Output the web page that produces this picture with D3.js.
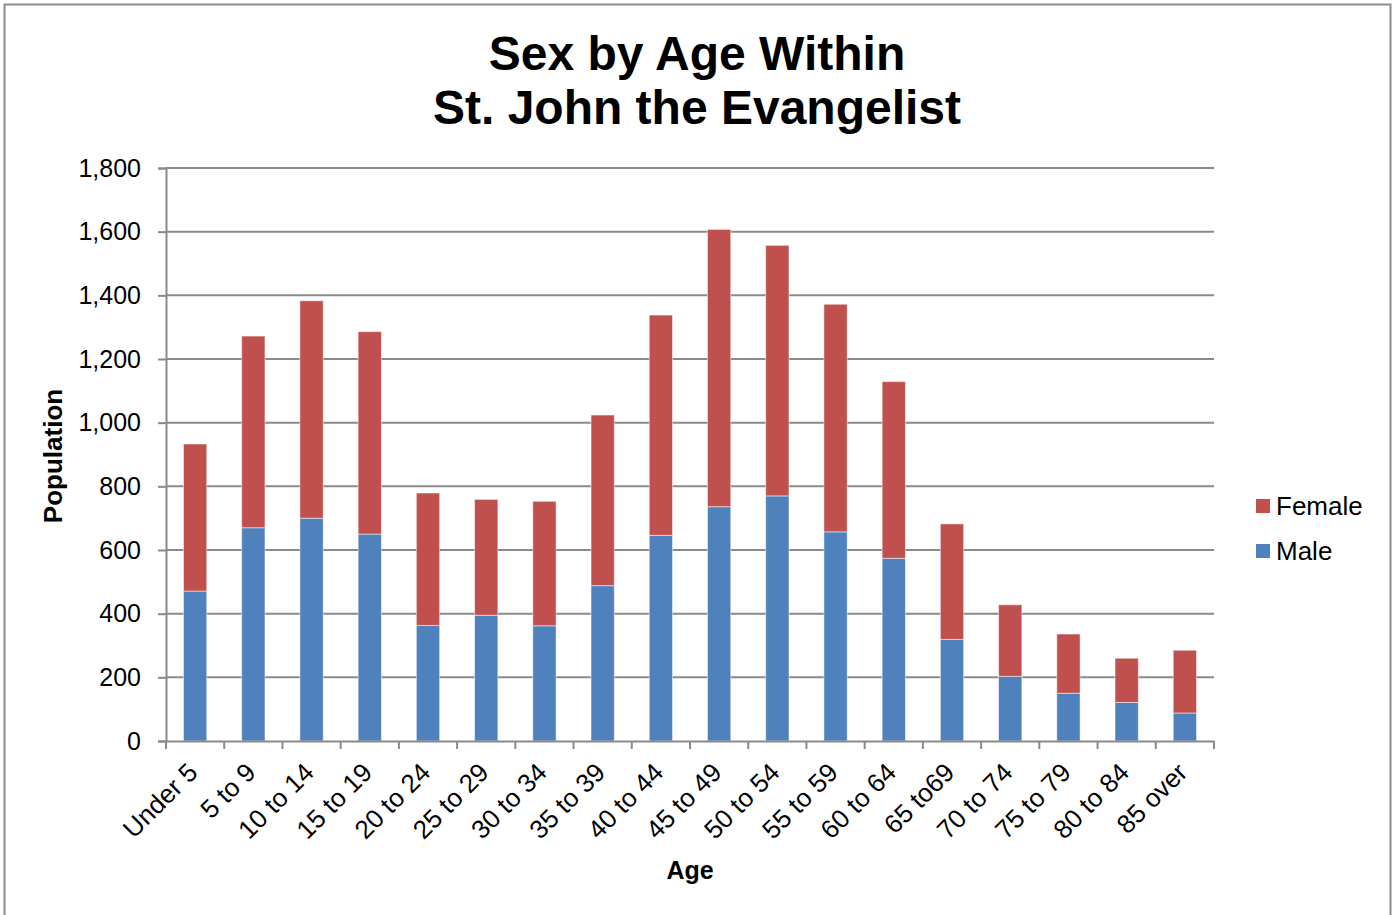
<!DOCTYPE html>
<html><head><meta charset="utf-8">
<script src="https://cdn.jsdelivr.net/npm/d3@7"></script>
<style>body{margin:0;background:#fff}svg{display:block}text{font-family:"Liberation Sans",Arial,sans-serif}</style>
</head><body>
<script>
const categories = ["Under 5","5 to 9","10 to 14","15 to 19","20 to 24","25 to 29","30 to 34","35 to 39","40 to 44","45 to 49","50 to 54","55 to 59","60 to 64","65 to69","70 to 74","75 to 79","80 to 84","85 over"];
const male   = [471, 670, 700, 650, 363, 395, 362, 488, 646, 736, 770, 657, 574, 319, 203, 150, 121, 88];
const totals = [933, 1272, 1383, 1286, 779, 759, 753, 1024, 1338, 1607, 1557, 1372, 1129, 682, 428, 336, 260, 285];
const female = totals.map((t, i) => t - male[i]);
const yTicks = [0, 200, 400, 600, 800, 1000, 1200, 1400, 1600, 1800];
const seriesNames = ["Male", "Female"];
const colors = {Male: "#4F81BD", Female: "#C0504D"};

const W = 1395, H = 915;
const FONT = '"Liberation Sans",Arial,sans-serif';
const svg = d3.select("body").append("svg").attr("width", W).attr("height", H);
svg.append("rect").attr("x", 4.5).attr("y", 4.5).attr("width", W - 9).attr("height", H).attr("fill", "#fff").attr("stroke", "#8c8c8c").attr("stroke-width", 2);

const pl = 166, pr = 1214, pt = 168, pb = 741;
const x = d3.scaleBand().domain(categories).range([pl, pr]).paddingInner(0.6).paddingOuter(0.3);
const y = d3.scaleLinear().domain([0, 1800]).range([pb, pt]);

// gridlines
svg.append("g").selectAll("line").data(yTicks.filter(d => d > 0)).join("line")
  .attr("x1", pl).attr("x2", pr).attr("y1", d => y(d)).attr("y2", d => y(d))
  .attr("stroke", "#8a8a8a").attr("stroke-width", 2);

// stacked data
const rows = categories.map((c, i) => ({cat: c, Male: male[i], Female: female[i]}));
const stack = d3.stack().keys(seriesNames)(rows);
svg.append("g").selectAll("g").data(stack).join("g").attr("fill", d => colors[d.key])
  .selectAll("rect").data(d => d).join("rect")
  .attr("x", d => x(d.data.cat)).attr("width", x.bandwidth())
  .attr("y", d => y(d[1])).attr("height", d => y(d[0]) - y(d[1]))
  .attr("stroke", "rgba(255,255,255,0.5)").attr("stroke-width", 1);

// y axis
const yAxis = svg.append("g").attr("transform", `translate(${pl},0)`)
  .call(d3.axisLeft(y).tickValues(yTicks).tickFormat(d3.format(",")).tickSize(8).tickPadding(17));
yAxis.select(".domain").attr("stroke", "#8a8a8a").attr("stroke-width", 2);
yAxis.selectAll(".tick line").attr("stroke", "#8a8a8a").attr("stroke-width", 2);
yAxis.selectAll(".tick text").attr("font-size", 25).attr("fill", "#000").style("font-family", FONT);

// x axis
const xAxis = svg.append("g").attr("transform", `translate(0,${pb})`)
  .call(d3.axisBottom(x).tickSize(0).tickSizeOuter(0));
xAxis.select(".domain").attr("stroke", "#8a8a8a").attr("stroke-width", 2);
const boundaries = d3.range(categories.length + 1).map(i => pl + i * (pr - pl) / categories.length);
xAxis.selectAll(".bticks").data(boundaries).join("line").attr("class", "bticks")
  .attr("x1", d => d).attr("x2", d => d).attr("y1", 0).attr("y2", 8)
  .attr("stroke", "#8a8a8a").attr("stroke-width", 2);
xAxis.selectAll(".tick text").attr("font-size", 26).attr("fill", "#000")
  .style("font-family", FONT)
  .attr("text-anchor", "end").attr("dy", "0")
  .attr("transform", "translate(4,33) rotate(-45)").attr("y", 0).attr("x", 0);

// title
svg.append("text").attr("x", 697).attr("y", 70).attr("text-anchor", "middle")
  .attr("font-size", 48).attr("font-weight", "bold").text("Sex by Age Within");
svg.append("text").attr("x", 697).attr("y", 124).attr("text-anchor", "middle")
  .attr("font-size", 48).attr("font-weight", "bold").text("St. John the Evangelist");

// axis titles
svg.append("text").attr("transform", `translate(62,456) rotate(-90)`).attr("text-anchor", "middle")
  .attr("font-size", 26).attr("font-weight", "bold").text("Population");
svg.append("text").attr("x", 690).attr("y", 879).attr("text-anchor", "middle")
  .attr("font-size", 25).attr("font-weight", "bold").text("Age");

// legend
const legendItems = ["Female", "Male"];
const lg = svg.append("g");
legendItems.forEach((k, i) => {
  const ly = 506 + i * 45;
  lg.append("rect").attr("x", 1256).attr("y", ly - 7).attr("width", 14).attr("height", 14).attr("fill", colors[k]);
  lg.append("text").attr("x", 1276).attr("y", ly + 9).attr("font-size", 26).text(k);
});
</script>
</body></html>
